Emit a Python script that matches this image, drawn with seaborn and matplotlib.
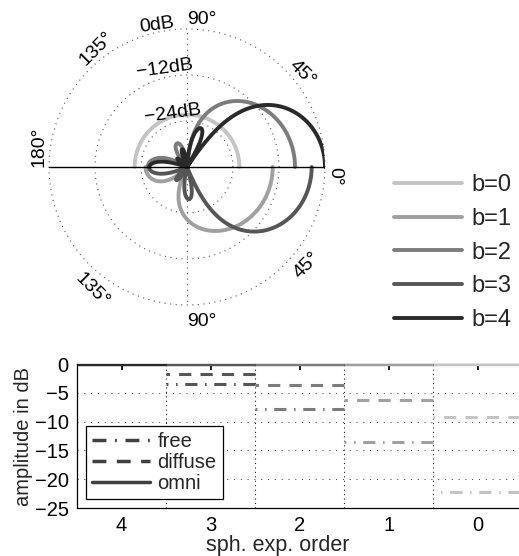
import numpy as np
import matplotlib
matplotlib.use("Agg")
import matplotlib.pyplot as plt
from matplotlib.lines import Line2D
import seaborn as sns

# ---------------------------------------------------------------------------
# Daten
# ---------------------------------------------------------------------------
# max-rE Gewichte a_n je Ordnung b (n = 0..b)
weights_b0 = [1.0]
weights_b1 = [1.0, 0.574]
weights_b2 = [1.0, 0.774, 0.399]
weights_b3 = [1.0, 0.861, 0.612, 0.304]
weights_b4 = [1.0, 0.906, 0.732, 0.501, 0.245]
WEIGHTS = [weights_b0, weights_b1, weights_b2, weights_b3, weights_b4]

order_labels = ["b=0", "b=1", "b=2", "b=3", "b=4"]

# unterer Plot: Pegel je Ordnung (dB)
orders = [0, 1, 2, 3, 4]
free_db = [-22.3, -13.6, -7.8, -3.5, 0.0]
diffuse_db = [-9.2, -6.2, -3.7, -1.8, 0.0]
omni_db = [0.0, 0.0, 0.0, 0.0, 0.0]

# ---------------------------------------------------------------------------
# Stil
# ---------------------------------------------------------------------------
sns.set_theme(style="white")
plt.rcParams["font.family"] = ["Liberation Sans", "DejaVu Sans"]

COLORS = ["#c4c4c4", "#a0a0a0", "#7c7c7c", "#565656", "#2a2a2a"]
DB_RANGE = 36.0
FS = 14.5

W, H = 519, 556
fig = plt.figure(figsize=(W / 100, H / 100), dpi=100)

# ---------------------------------------------------------------------------
# Polardiagramm
# ---------------------------------------------------------------------------
axp = fig.add_axes([49 / W, 1 - 305 / H, 276 / W, 276 / H], projection="polar")
axp.set_theta_zero_location("E")
axp.set_ylim(0, DB_RANGE)
axp.set_xticks([])
axp.set_yticks([])
axp.grid(False)
axp.spines["polar"].set_visible(False)
axp.patch.set_alpha(0)

full = np.linspace(0, 2 * np.pi, 721)
for rr in (12, 24, 36):
    axp.plot(full, np.full_like(full, rr), ls=(0, (1, 4)), color="#555555",
             lw=0.8, clip_on=False)
axp.plot([np.pi / 2, np.pi / 2], [0, DB_RANGE], ls=(0, (1, 4)), color="#555555", lw=0.8)
axp.plot([-np.pi / 2, -np.pi / 2], [0, DB_RANGE], ls=(0, (1, 4)), color="#555555", lw=0.8)

theta = np.linspace(0, np.pi, 1801)
ref = np.polynomial.legendre.legval(
    1.0, [(2 * n + 1) * a for n, a in enumerate(weights_b4)])
handles = []
for b, w in enumerate(WEIGHTS):
    coeffs = [(2 * n + 1) * a for n, a in enumerate(w)]
    g = np.polynomial.legendre.legval(np.cos(theta), coeffs)
    db = 20 * np.log10(np.abs(g) / ref + 1e-12)
    r = np.clip(db + DB_RANGE, 0, None)
    ang = theta if b % 2 == 0 else -theta
    sns.lineplot(x=ang, y=r, ax=axp, color=COLORS[b], lw=2.8, sort=False,
                 estimator=None)
    handles.append(Line2D([], [], color=COLORS[b], lw=2.8))

# x-Achse als durchgezogene Linie
axp.plot([np.pi, np.pi], [DB_RANGE, 0], color="black", lw=1.0)
axp.plot([0, 0], [0, DB_RANGE], color="black", lw=1.0)
axp.set_ylim(0, DB_RANGE)

lab_fs = 14
for deg, txt in [(90, "90°"), (135, "135°"), (180, "180°"), (45, "45°"), (0, "0°")]:
    axp.text(np.deg2rad(deg), 36.3, txt, rotation=deg - 90, rotation_mode="anchor",
             ha="left", va="bottom", fontsize=lab_fs, color="black")
for deg, txt in [(-45, "45°"), (-90, "90°"), (-135, "135°")]:
    axp.text(np.deg2rad(deg), 38.0, txt, rotation=deg + 90, rotation_mode="anchor",
             ha="left", va="top", fontsize=lab_fs, color="black")
for deg, rr, txt in [(102, 37.8, "0dB"), (103, 26.3, "\u221212dB"),
                     (105.5, 14.4, "\u221224dB")]:
    axp.text(np.deg2rad(deg), rr, txt, rotation=8, ha="center", va="center",
             fontsize=lab_fs, color="black")

fig.legend(handles, order_labels, loc="upper left",
           bbox_to_anchor=(394 / W, 1 - 174 / H), frameon=False,
           handlelength=2.9, handletextpad=0.4, labelspacing=0.5,
           borderpad=0, borderaxespad=0, fontsize=17)

# ---------------------------------------------------------------------------
# Pegel je Ordnung
# ---------------------------------------------------------------------------
ax2 = fig.add_axes([77 / W, 48 / H, 445.5 / W, 144 / H])
ax2.set_xlim(4.5, -0.5)
ax2.set_ylim(-25, 0)

for yy in (-5, -10, -15, -20):
    ax2.axhline(yy, ls=(0, (1, 6)), color="#333333", lw=0.7, zorder=1)
for xx in (3.5, 2.5, 1.5, 0.5):
    ax2.axvline(xx, ls=(0, (1, 3)), color="#222222", lw=0.8, zorder=1)

for i, b in enumerate(orders):
    c = COLORS[b]
    xs = [b - 0.5, b + 0.5]
    ax2.plot(xs, [omni_db[i]] * 2, ls="-", color=c, lw=2.5,
             solid_capstyle="butt", zorder=3)
    if diffuse_db[i] < 0:
        ax2.plot(xs, [diffuse_db[i]] * 2, ls=(0, (4, 3)), color=c, lw=2.2,
                 dash_capstyle="butt", zorder=3)
    if free_db[i] < 0:
        ax2.plot(xs, [free_db[i]] * 2, ls=(0, (4, 2.5, 0.5, 2.5)), color=c,
                 lw=2.2, dash_capstyle="butt", zorder=3)

ax2.set_xticks([4, 3, 2, 1, 0])
ax2.set_yticks([-25, -20, -15, -10, -5, 0])
ax2.tick_params(direction="in", length=4, top=True, right=False,
                labelsize=FS, colors="black", pad=6)
for sp in ax2.spines.values():
    sp.set_color("black")
    sp.set_linewidth(0.9)
ax2.set_xlabel("sph. exp. order", fontsize=15.5)
ax2.xaxis.set_label_coords((278 - 77) / 445.5, -(535 - 508) / 144)
ax2.set_ylabel("amplitude in dB", fontsize=FS, labelpad=1)

leg_handles = [
    Line2D([], [], color="#404040", lw=2.5, ls=(0, (4, 2.5, 0.5, 2.5))),
    Line2D([], [], color="#404040", lw=2.5, ls=(0, (4, 3))),
    Line2D([], [], color="#404040", lw=2.5, ls="-"),
]
leg = ax2.legend(leg_handles, ["free", "diffuse", "omni"], loc="lower left",
                 bbox_to_anchor=(9 / 445.5, 9 / 144), fontsize=FS,
                 handlelength=2.9, handletextpad=0.35, labelspacing=0.1,
                 borderpad=0.3, borderaxespad=0, fancybox=False,
                 framealpha=1, edgecolor="black")
leg.get_frame().set_linewidth(0.9)
leg.set_zorder(5)

fig.savefig("out.png", dpi=100)
